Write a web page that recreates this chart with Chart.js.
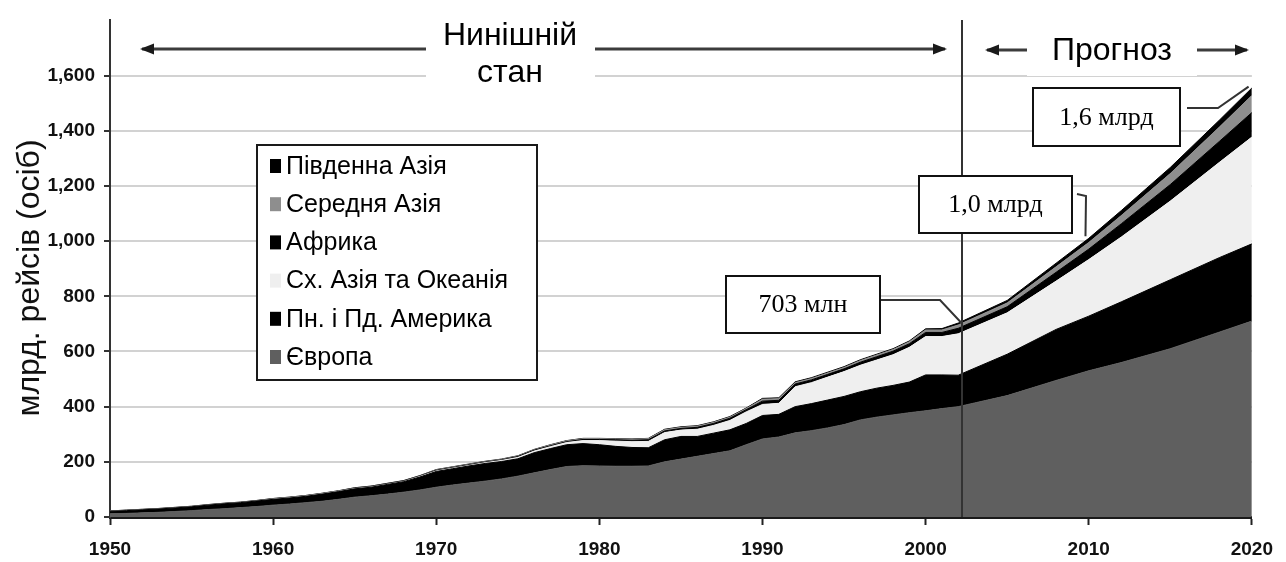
<!DOCTYPE html>
<html><head><meta charset="utf-8">
<script src="https://cdn.jsdelivr.net/npm/chart.js@4.4.1/dist/chart.umd.min.js"></script>
<style>html,body{margin:0;padding:0;background:#fff;}#wrap{width:1286px;height:562px;position:relative;}</style>
</head><body><div id="wrap"><canvas id="c" width="1286" height="562"></canvas></div>
<script>
// ---- data (billions of passenger trips) ----
const years = [1950,1951,1952,1953,1954,1955,1956,1957,1958,1959,
  1960,1961,1962,1963,1964,1965,1966,1967,1968,1969,
  1970,1971,1972,1973,1974,1975,1976,1977,1978,1979,
  1980,1981,1982,1983,1984,1985,1986,1987,1988,1989,
  1990,1991,1992,1993,1994,1995,1996,1997,1998,1999,
  2000,2001,2002,2005,2008,2010,2012,2015,2018,2020];
const europe = [12,13,15,17,20,23,27,30,34,38,
  43,47,52,57,64,72,77,83,90,98,
  108,116,123,130,138,148,160,172,183,186,
  185,184,184,185,200,210,220,230,240,262,
  283,290,305,313,323,335,352,362,370,378,
  385,393,400,440,495,530,560,610,670,710];
const americas = [9,10,11,12,13,14,16,18,18,20,
  21,22,23,26,28,30,31,35,38,47,
  57,59,62,64,63,63,73,76,79,80,
  77,72,68,66,80,82,72,74,76,77,
  85,82,95,98,101,102,102,105,107,111,
  130,122,114,150,185,198,220,250,270,280];
const eastAsiaOceania = [0,0,0,0,0,0,0,0,0,0,
  1,1,1,1,1,1,1,1,1,2,
  2,2,2,3,4,5,6,7,8,11,
  15,19,21,23,26,23,26,28,34,42,
  40,40,72,76,83,90,96,102,111,126,
  139,139,150,150,175,205,235,285,345,387];
const africa = [1,1,1,1,1,1,1,1,1,1,
  1,1,1,1,1,2,2,2,2,2,
  2,2,2,2,2,3,3,3,3,4,
  4,5,5,6,6,6,7,7,8,8,
  12,11,10,10,10,10,11,12,13,13,
  15,15,20,22,32,38,48,60,76,89];
const centralAsia = [0,1,1,1,1,1,1,1,1,1,
  1,1,1,1,1,1,1,1,1,1,
  2,2,2,2,2,2,2,3,3,3,
  3,3,4,4,4,4,4,4,4,4,
  7,6,5,5,5,5,6,6,6,7,
  9,9,12,14,20,24,30,40,52,62];
const southAsia = [0,0,0,0,0,0,0,0,0,0,
  0,0,0,0,0,0,0,0,0,0,
  1,1,1,1,1,1,1,1,1,1,
  1,1,1,1,2,2,2,2,2,2,
  3,3,3,3,3,3,3,3,3,3,
  4,5,7,9,13,15,18,22,25,27];
const seriesNames = ['Європа','Пн. і Пд. Америка','Сх. Азія та Океанія','Африка','Середня Азія','Південна Азія'];
const seriesColors = ['#5f5f5f','#000000','#efefef','#000000','#8e8e8e','#000000'];
const xTickValues = [1950,1960,1970,1980,1990,2000,2010,2020];
const yTickValues = [0,200,400,600,800,1000,1200,1400,1600];
const yAxisTitle = 'млрд. рейсів (осіб)';
const currentLabel = ['Нинішній','стан'];
const forecastLabel = 'Прогноз';
const forecastStartYear = 2002.2;
const callouts = [
  {text:'703 млн', year:2002.2, value:703},
  {text:'1,0 млрд', year:2009.8, value:1018},
  {text:'1,6 млрд', year:2019.8, value:1560}
];

const seriesValues = [europe, americas, eastAsiaOceania, africa, centralAsia, southAsia];
const datasets = seriesValues.map((vals,i)=>({
  label: seriesNames[i],
  data: vals.map((v,j)=>({x:years[j], y:v})),
  backgroundColor: seriesColors[i],
  borderColor: seriesColors[i],
  borderWidth: 1,
  pointRadius: 0,
  tension: 0,
  fill: i===0 ? 'origin' : '-1'
}));

const SANS = '"Liberation Sans", Arial, sans-serif';
const SERIF = '"Liberation Serif", "Times New Roman", serif';

function arrow(ctx, xFrom, xTo, y){
  ctx.beginPath(); ctx.moveTo(xFrom, y); ctx.lineTo(xTo, y); ctx.stroke();
  const d = xTo > xFrom ? 1 : -1;
  ctx.beginPath();
  ctx.moveTo(xTo + d*2, y);
  ctx.lineTo(xTo - d*12, y-5.5);
  ctx.lineTo(xTo - d*12, y+5.5);
  ctx.closePath(); ctx.fill();
}

const deco = {
  id:'deco',
  afterDraw(chart){
    const {ctx, chartArea} = chart;
    const x = chart.scales.x, y = chart.scales.y;
    ctx.save();
    // forecast divider
    const xv = Math.round(x.getPixelForValue(forecastStartYear));
    ctx.strokeStyle = '#333'; ctx.lineWidth = 2;
    ctx.beginPath(); ctx.moveTo(xv, 20); ctx.lineTo(xv, chartArea.bottom); ctx.stroke();

    // white patches behind period labels
    ctx.fillStyle = '#fff';
    ctx.fillRect(426, 15, 169, 68);
    ctx.fillRect(1027, 28, 170, 48);

    // arrows
    ctx.strokeStyle = '#3c3c3c'; ctx.fillStyle = '#1a1a1a'; ctx.lineWidth = 3;
    arrow(ctx, 426, 142, 49);
    arrow(ctx, 595, 945, 49);
    arrow(ctx, 1027, 987, 50);
    arrow(ctx, 1197, 1247, 50);

    // period labels
    ctx.fillStyle = '#000';
    ctx.font = '32px ' + SANS;
    ctx.textAlign = 'center'; ctx.textBaseline = 'alphabetic';
    ctx.fillText(currentLabel[0], 510, 45);
    ctx.fillText(currentLabel[1], 510, 82);
    ctx.fillText(forecastLabel, 1112, 60);

    // callouts
    const boxes = [
      {x:726, y:276, w:154, h:57, lead:[[880,300],[940,300]]},
      {x:919, y:176, w:153, h:57, lead:[[1077,194],[1086,196]]},
      {x:1033, y:88, w:147, h:58, lead:[[1187,108],[1218,108]]}
    ];
    callouts.forEach((c,i)=>{
      const b = boxes[i];
      const tx = x.getPixelForValue(c.year), ty = y.getPixelForValue(c.value);
      ctx.strokeStyle = '#333'; ctx.lineWidth = 2;
      ctx.beginPath();
      ctx.moveTo(b.lead[0][0], b.lead[0][1]);
      ctx.lineTo(b.lead[1][0], b.lead[1][1]);
      ctx.lineTo(tx, ty);
      ctx.stroke();
      ctx.fillStyle = '#fff';
      ctx.fillRect(b.x, b.y, b.w, b.h);
      ctx.strokeStyle = '#111'; ctx.lineWidth = 2;
      ctx.strokeRect(b.x, b.y, b.w, b.h);
      ctx.fillStyle = '#000';
      ctx.font = '26px ' + SERIF;
      ctx.textAlign = 'center'; ctx.textBaseline = 'middle';
      ctx.fillText(c.text, b.x + b.w/2, b.y + b.h/2 + 1);
    });

    // legend
    const lx = 257, ly = 145, lw = 280, lh = 235;
    ctx.fillStyle = '#fff'; ctx.fillRect(lx, ly, lw, lh);
    ctx.strokeStyle = '#1a1a1a'; ctx.lineWidth = 2; ctx.strokeRect(lx, ly, lw, lh);
    const ds = chart.data.datasets.slice().reverse();
    ctx.font = '25px ' + SANS; ctx.textAlign = 'left'; ctx.textBaseline = 'middle';
    ds.forEach((d,i)=>{
      const cy = 166 + i*38.2;
      ctx.fillStyle = d.backgroundColor;
      ctx.fillRect(270, cy-7, 11, 14);
      ctx.fillStyle = '#000';
      ctx.fillText(d.label, 286, cy+1);
    });

    // y axis title
    ctx.save();
    ctx.translate(30, 278); ctx.rotate(-Math.PI/2);
    ctx.font = '32px ' + SANS; ctx.fillStyle = '#111';
    ctx.textAlign = 'center'; ctx.textBaseline = 'middle';
    ctx.fillText(yAxisTitle, 0, 0);
    ctx.restore();
    ctx.restore();
  }
};

new Chart(document.getElementById('c'), {
  type: 'line',
  data: { datasets },
  options: {
    responsive: false,
    animation: false,
    devicePixelRatio: 1,
    layout: { padding: { top: 13, right: 26, left: 0, bottom: 0 } },
    plugins: { legend: { display: false }, tooltip: { enabled: false } },
    elements: { line: { tension: 0 } },
    scales: {
      x: {
        type: 'linear', min: 1950, max: 2020,
        afterBuildTicks: s => { s.ticks = xTickValues.map(v => ({value: v})); },
        afterFit: s => { s.height = 45; },
        ticks: { color: '#111', font: { family: SANS, size: 19, weight: 'bold' }, padding: 13,
                 callback: v => String(v), maxRotation: 0, autoSkip: false },
        grid: { drawOnChartArea: false, drawTicks: true, tickLength: 8, tickColor: '#222', tickWidth: 2 },
        border: { color: '#1a1a1a', width: 3 }
      },
      y: {
        stacked: true, min: 0, max: 1800,
        afterBuildTicks: s => { s.ticks = yTickValues.map(v => ({value: v})); },
        afterFit: s => { s.width = 110; },
        ticks: { color: '#111', font: { family: SANS, size: 19, weight: 'bold' }, padding: 9,
                 callback: v => v.toLocaleString('en-US') },
        grid: { color: '#d2d2d2', lineWidth: 2, tickLength: 6, tickColor: '#333', tickWidth: 2 },
        border: { color: '#333', width: 2 }
      }
    }
  },
  plugins: [deco]
});
</script>
</body></html>
